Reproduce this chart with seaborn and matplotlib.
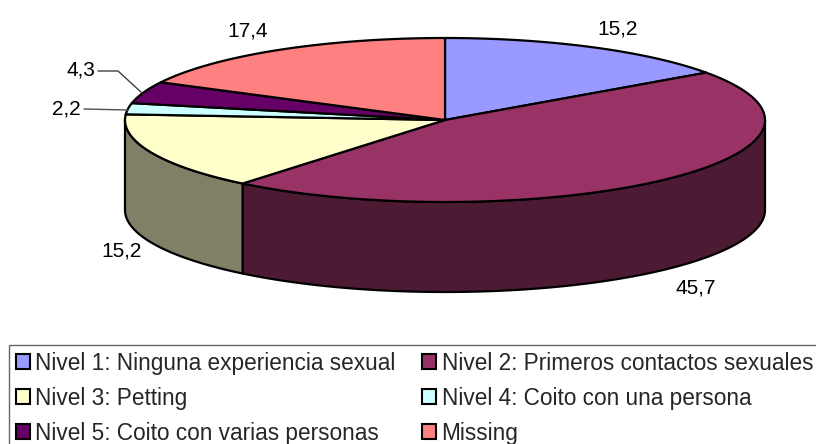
"""
Tarta 3D : niveles de experiencia sexual.
"""

import numpy as np
import seaborn as sns
import matplotlib.pyplot as plt
from matplotlib.patches import Patch, Polygon

categories = [
    "Nivel 1: Ninguna experiencia sexual",
    "Nivel 2: Primeros contactos sexuales",
    "Nivel 3: Petting",
    "Nivel 4: Coito con una persona",
    "Nivel 5: Coito con varias personas",
    "Missing",
]
values = [15.2, 45.7, 15.2, 2.2, 4.3, 17.4]
colors = ["#9999FF", "#993366", "#FFFFCC", "#CCFFFF", "#660066", "#FF8080"]

CX, CY = 445, 120
RX, RY = 320, 82
DEPTH = 90


def rim(start, end):
    """Puntos del borde de la elipse, ángulos en grados desde arriba en sentido horario."""
    t = np.radians(np.linspace(start, end, max(int(abs(end - start)) * 2, 2)))
    return np.column_stack([CX + RX * np.sin(t), CY - RY * np.cos(t)])


sns.set_theme(style="white")
plt.rcParams["font.family"] = ["Liberation Sans", "DejaVu Sans"]
palette = sns.color_palette(colors)

fig = plt.figure(figsize=(8.16, 4.44), dpi=100)
ax = fig.add_axes([0, 0, 1, 1])
ax.set_xlim(0, 816)
ax.set_ylim(444, 0)
ax.axis("off")

edges = np.concatenate([[0], np.cumsum(values)]) / sum(values) * 360

# cara lateral visible (90 a 270 grados)
for color, start, end in zip(palette, edges[:-1], edges[1:]):
    a, b = max(start, 90), min(end, 270)
    if a >= b:
        continue
    top = rim(a, b)
    bottom = top[::-1] + [0, DEPTH]
    side = tuple(c * 0.5 for c in color)
    ax.add_patch(Polygon(np.vstack([top, bottom]), closed=True, facecolor=side,
                         edgecolor="black", linewidth=1.6, joinstyle="round"))

# cara superior
for color, start, end in zip(palette, edges[:-1], edges[1:]):
    pts = np.vstack([[CX, CY], rim(start, end)])
    ax.add_patch(Polygon(pts, closed=True, facecolor=color,
                         edgecolor="black", linewidth=1.6, joinstyle="round"))

# etiquetas de datos
label_pos = [(618, 29), (696, 288), (122, 251), (66, 109), (81, 70), (248, 31)]
for (x, y), v in zip(label_pos, values):
    ax.text(x, y, f"{v:.1f}".replace(".", ","), ha="center", va="center", fontsize=15, color="black")

# líneas guía
ax.plot([84, 128], [109, 110], color="#505050", linewidth=1)
ax.plot([98, 118, 142], [71, 71, 93], color="#404040", linewidth=1)

# la leyenda se rellena por columnas: se reordena para leerla por filas
order = [0, 2, 4, 1, 3, 5]
handles = [Patch(facecolor=palette[i], edgecolor="black", linewidth=1.5) for i in order]
leg = ax.legend(
    handles,
    [categories[i] for i in order],
    ncol=2,
    loc="upper left",
    bbox_to_anchor=(9 / 816, 1 - 345 / 444),
    borderaxespad=0,
    fontsize=16.3,
    frameon=True,
    fancybox=False,
    edgecolor="#404040",
    handlelength=0.62,
    handleheight=0.62,
    handletextpad=0.25,
    columnspacing=1.15,
    labelspacing=0.53,
    borderpad=0.3,
)
leg.get_frame().set_linewidth(1.0)

fig.savefig("out.png", dpi=100)
